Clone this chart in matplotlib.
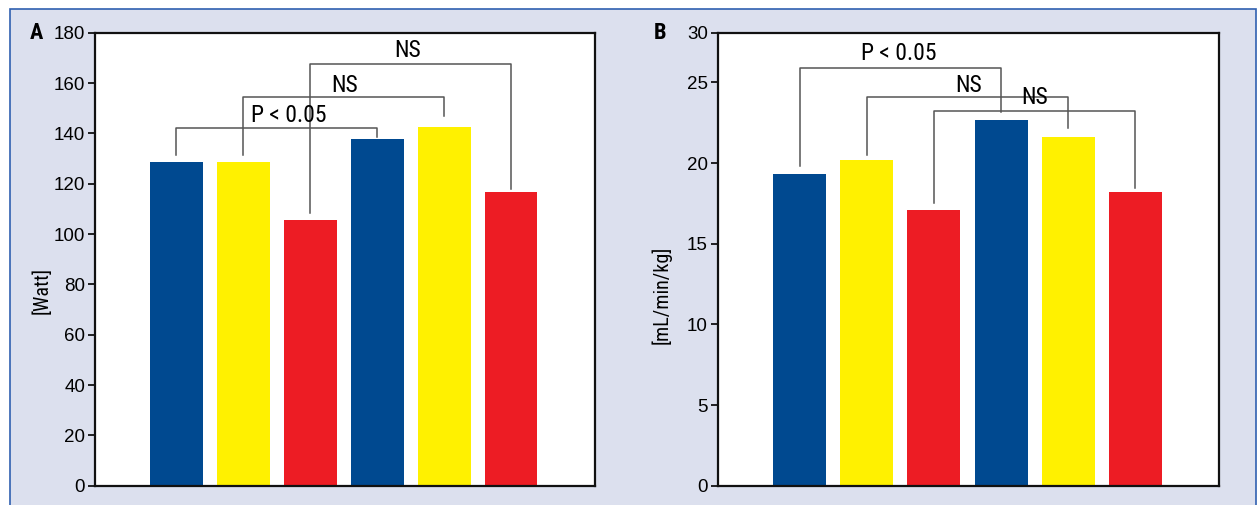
import matplotlib
matplotlib.use('Agg')
import matplotlib.pyplot as plt
import numpy as np

narrow = ['Roboto Condensed', 'DejaVu Sans']
regular = ['Liberation Sans', 'DejaVu Sans']
plt.rcParams['font.family'] = narrow

# Data
bar_colors = ['#004990', '#FFF100', '#ED1C24', '#004990', '#FFF100', '#ED1C24']
watt = [128.5, 128.5, 105.4, 137.6, 142.4, 116.6]
vo2 = [19.35, 20.2, 17.1, 22.7, 21.6, 18.2]

# brackets: (left bar, right bar, height, left leg end, right leg end, label, label x, label y)
brackets_a = [
    (0, 3, 142.1, 131.4, 138.7, 'P < 0.05', 1.68, 147.3),
    (1, 4, 154.3, 131.4, 147.0, 'NS', 2.52, 159.2),
    (2, 5, 167.7, 108.2, 118.1, 'NS', 3.46, 173.1),
]
brackets_b = [
    (0, 3, 25.87, 19.83, 23.14, 'P < 0.05', 1.48, 26.8),
    (1, 4, 24.07, 20.5, 22.15, 'NS', 2.52, 24.83),
    (2, 5, 23.22, 17.5, 18.43, 'NS', 3.5, 24.05),
]
ticks_a = [0, 20, 40, 60, 80, 100, 120, 140, 160, 180]
ticks_b = [0, 5, 10, 15, 20, 25]
top_b = 28.08  # the reference's top label "30" sits here

bg = '#DCE0EE'
fig = plt.figure(figsize=(12.58, 5.05), dpi=100, facecolor='white')
# panel background with blue border on top/left/right
fig.patches.append(plt.Rectangle((10 / 1258, -0.01), 1246 / 1258, 1.01 - 9 / 505,
                                 transform=fig.transFigure, facecolor=bg,
                                 edgecolor='#3060B0', linewidth=1.2, zorder=-10))

ax_a = fig.add_axes([0.0754, 0.0382, 0.3973, 0.897])
ax_b = fig.add_axes([0.5704, 0.0382, 0.3989, 0.897])

x = np.arange(len(watt))


def draw_panel(ax, vals, brackets, ylabel):
    ax.bar(x, vals, width=0.79, color=bar_colors, zorder=2)
    ax.set_xlim(-1.22, 6.25)
    ax.set_xticks([])
    for s in ax.spines.values():
        s.set_linewidth(1.6)
        s.set_color('#111111')
    ax.tick_params(axis='y', direction='out', length=5, width=1.2, pad=2)
    ax.set_ylabel(ylabel, fontsize=14.5)
    for l, r, h, lb, rb, txt, tx, ty in brackets:
        ax.plot([x[l], x[l], x[r], x[r]], [lb, h, h, rb], color='#555555', lw=1.1, zorder=3)
        ax.text(tx, ty, txt, ha='center', va='center', fontsize=17, zorder=4)


draw_panel(ax_a, watt, brackets_a, '[Watt]')
ax_a.set_ylim(0, 180)
ax_a.set_yticks(ticks_a)
ax_a.set_yticklabels([str(t) for t in ticks_a], family=regular, fontsize=13.5)
ax_a.yaxis.set_label_coords(-0.086, 0.432)

draw_panel(ax_b, vo2, brackets_b, '[mL/min/kg]')
ax_b.set_ylim(0, top_b)
ax_b.set_yticks(ticks_b + [top_b])
ax_b.set_yticklabels([str(t) for t in ticks_b] + ['30'], family=regular, fontsize=13.5)
ax_b.yaxis.set_label_coords(-0.091, 0.421)

fig.text(36 / 1258, 1 - 33 / 505, 'A', fontsize=16, fontweight='bold', ha='center', va='center')
fig.text(660 / 1258, 1 - 33 / 505, 'B', fontsize=16, fontweight='bold', ha='center', va='center')

fig.savefig('out.png', dpi=100, facecolor=fig.get_facecolor())
